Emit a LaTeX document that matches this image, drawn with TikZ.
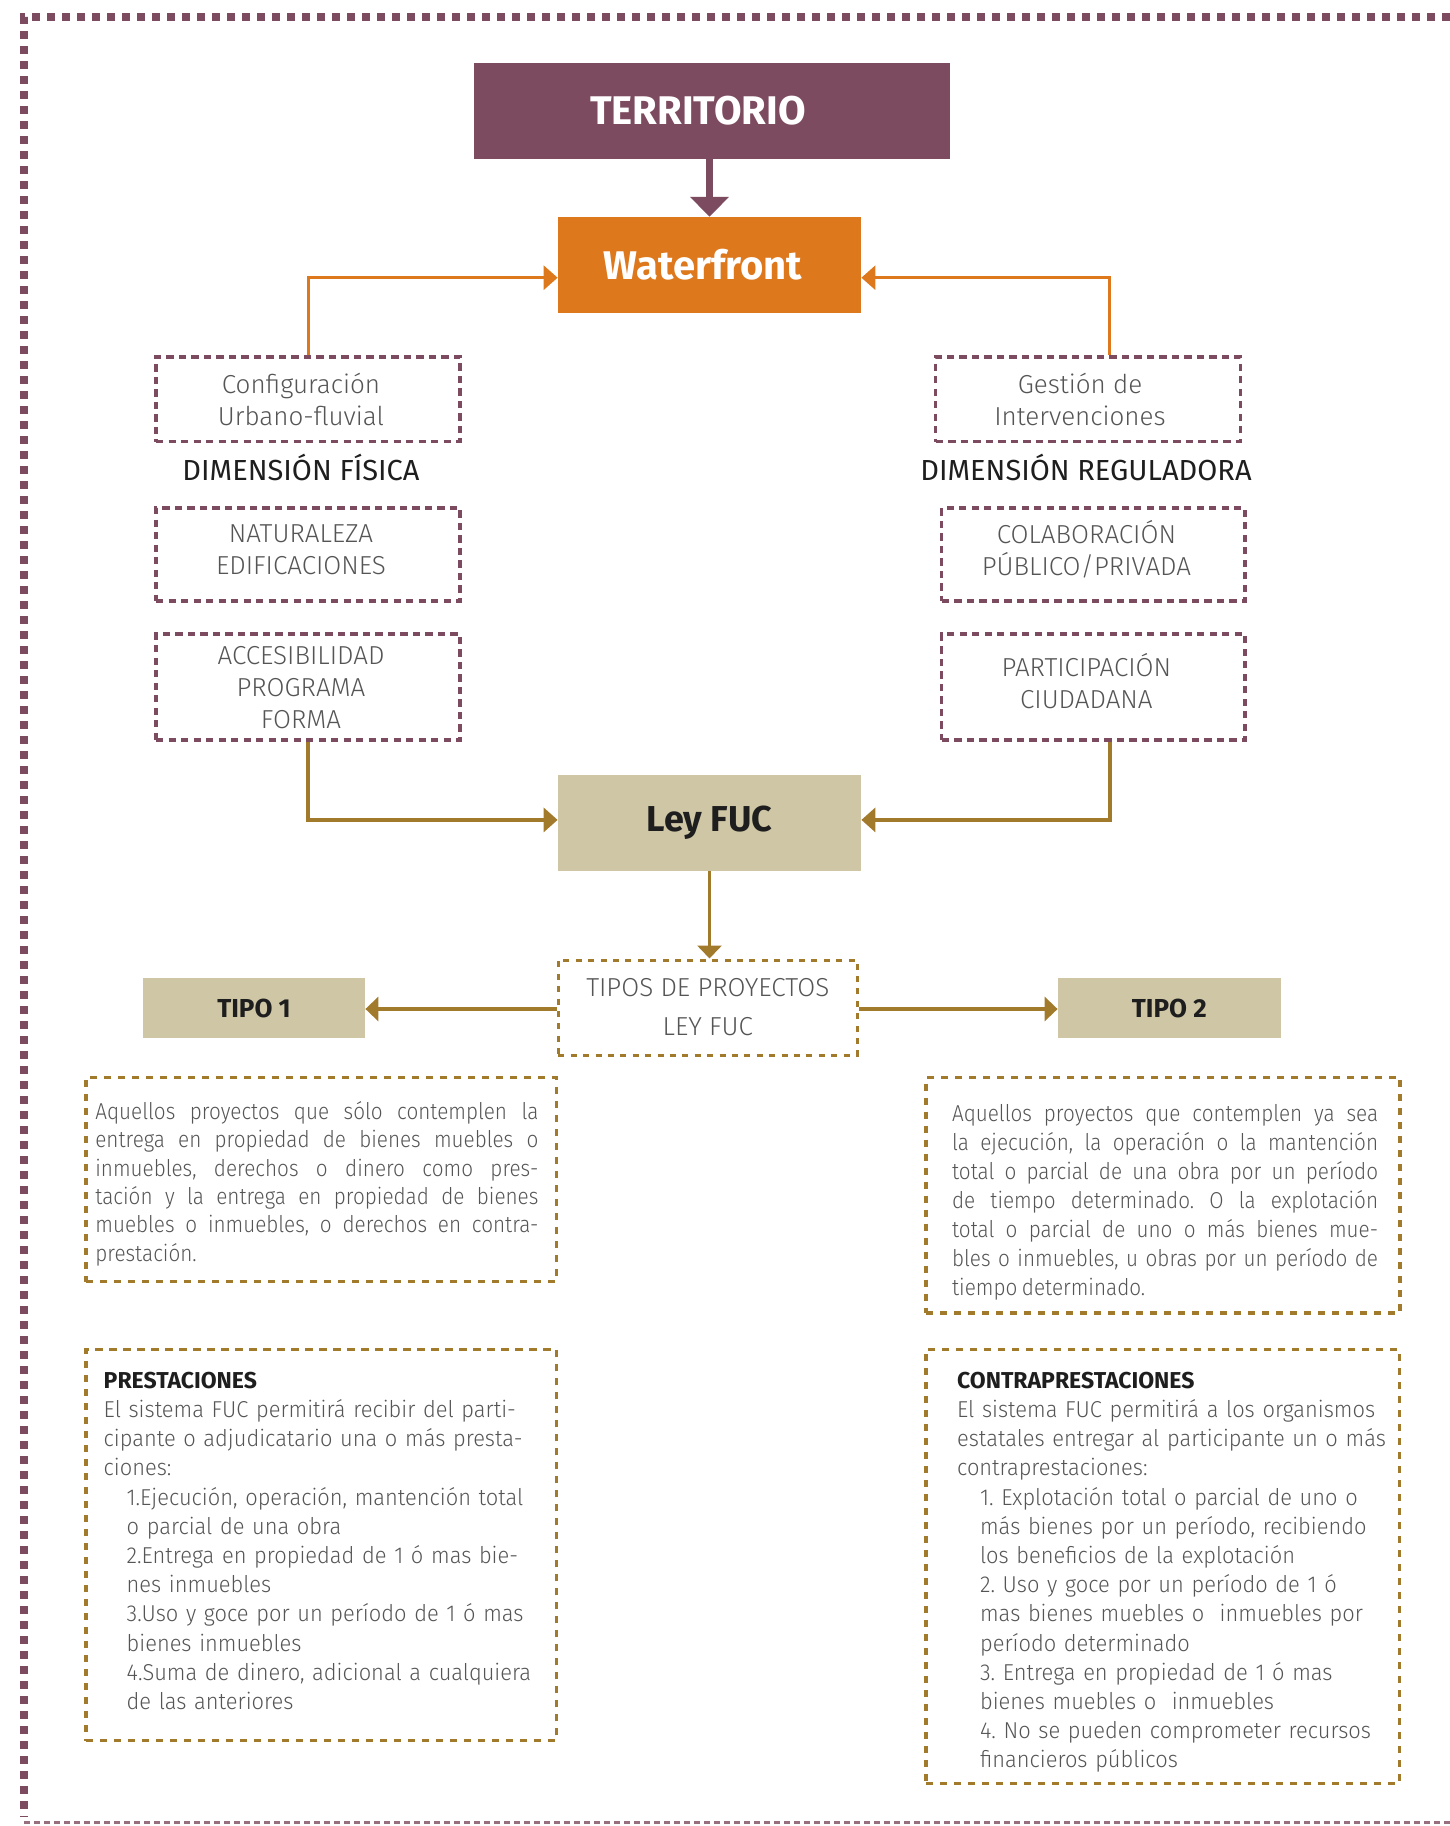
\documentclass[tikz,border=0pt]{standalone}
\usepackage{fontspec}
\usetikzlibrary{arrows.meta,calc}
\setmainfont{Fira Sans}
\newcommand\mylightname{Fira Sans}
\IfFontExistsTF{Fira Sans Light}{\renewcommand\mylightname{Fira Sans Light}}{%
  \IfFontExistsTF{FiraSans-Light}{\renewcommand\mylightname{FiraSans-Light}}{%
    \IfFontExistsTF{Fira Sans Book}{\renewcommand\mylightname{Fira Sans Book}}{%
      \IfFontExistsTF{FiraSans-Book}{\renewcommand\mylightname{FiraSans-Book}}{}}}}
\newfontfamily\lightf{\mylightname}
\newfontfamily\descf{\mylightname}[FakeStretch=0.95, WordSpace=0.8]
\newfontfamily\descnf{\mylightname}[FakeStretch=0.9, WordSpace=0.8]
\frenchspacing
\tolerance=9999
\hbadness=10000
\definecolor{plum}{HTML}{7D4B5F}
\definecolor{orng}{HTML}{DD781C}
\definecolor{gold}{HTML}{A27A2C}
\definecolor{beige}{HTML}{CFC6A6}
\definecolor{txtgray}{HTML}{555555}
\definecolor{txtdark}{HTML}{1E1E1E}
\tikzset{
  pbox/.style={draw=plum, line width=1.6pt, dash pattern=on 3.65pt off 2.6pt, inner sep=0pt},
  gbox/.style={draw=gold, line width=1.65pt, dash pattern=on 3.6pt off 3.4pt, inner sep=0pt},
  gdot/.style={draw=gold, line width=1.5pt, dash pattern=on 3pt off 3.2pt, inner sep=0pt},
  fillbox/.style={inner sep=0pt, draw=none},
  lbl/.style={font=\lightf\fontsize{13}{16}\selectfont, text=txtgray, align=center, inner sep=0pt},
  dimlbl/.style={font=\fontsize{14.5}{17}\selectfont, text=txtdark, inner sep=0pt},
  boldw/.style={font=\bfseries\fontsize{20}{24}\selectfont, text=white, inner sep=0pt},
  boldk/.style={font=\bfseries\fontsize{13}{16}\selectfont, text=txtdark},
  desc/.style={font=\descf\fontsize{11.5}{14.5}\selectfont, text=txtgray, align=left, inner sep=0pt},
  jdesc/.style={text=txtgray, align=justify, inner sep=0pt},
  parrow/.style={draw=plum, line width=3.5pt, -{Triangle[length=10pt,width=19pt]}},
  oarrow/.style={draw=orng, line width=1.5pt, -{Triangle[length=7pt,width=12pt]}},
  garrow/.style={draw=gold, line width=2pt, -{Triangle[length=7pt,width=12pt]}},
  garrowthin/.style={draw=gold, line width=1.7pt, -{Triangle[length=6.5pt,width=12pt]}},
}
\begin{document}
\begin{tikzpicture}[x=0.5pt,y=-0.5pt]
\useasboundingbox (0,0) rectangle (1450,1826);
% outer frame
\draw[plum, line width=4pt, dash pattern=on 4pt off 3.5pt] (1450,17) -- (24,17) -- (24,1817);
\draw[plum!80, line width=1.5pt, dash pattern=on 3pt off 2pt] (24,1822) -- (1450,1822);

% top boxes
\node[fillbox, fill=plum, minimum width=238pt, minimum height=47.75pt] (terr) at (712,110.8) {};
\node[boldw] (terrt) at (698,110.8) {TERRITORIO};
\node[fillbox, fill=orng, minimum width=151.5pt, minimum height=47.85pt] (wf) at (709.5,265) {};
\node[boldw] (wft) at (703,265) {Waterfront};

% left column
\node[pbox, minimum width=152pt, minimum height=42.35pt] (cfg) at (308,399.3) {};
\node[lbl] (cfgt) at ($(cfg)+(-7,0)$) {Configuración\\Urbano-fluvial};
\node[dimlbl] (dimf) at (301,467.5) {DIMENSIÓN FÍSICA};
\node[pbox, minimum width=152pt, minimum height=46.5pt] (nat) at (308,554.5) {};
\node[lbl] (natt) at ($(nat)+(-7,-5)$) {NATURALEZA\\EDIFICACIONES};
\node[pbox, minimum width=152pt, minimum height=53pt] (acc) at (308,687) {};
\node[lbl] (acct) at ($(acc)+(-7,1)$) {ACCESIBILIDAD\\PROGRAMA\\FORMA};

% right column
\node[pbox, minimum width=152.15pt, minimum height=42.35pt] (ges) at (1088,399.3) {};
\node[lbl] (gest) at ($(ges)+(-8,0)$) {Gestión de\\Intervenciones};
\node[dimlbl] (dimr) at (1086,467.5) {DIMENSIÓN REGULADORA};
\node[pbox, minimum width=151.65pt, minimum height=46.5pt] (col) at (1093.4,554.5) {};
\node[lbl] (colt) at ($(col)+(-7,-5)$) {COLABORACIÓN\\PÚBLICO/PRIVADA};
\node[pbox, minimum width=151.65pt, minimum height=53pt] (par) at (1093.4,687) {};
\node[lbl] (part) at ($(par)+(-7,-6)$) {PARTICIPACIÓN\\CIUDADANA};

% Ley FUC
\node[fillbox, fill=beige, minimum width=151.5pt, minimum height=47.85pt,
      font=\bfseries\fontsize{18}{22}\selectfont, text=txtdark] (ley) at (709.5,822.9) {Ley FUC};

% tipos
\node[gdot, minimum width=149.5pt, minimum height=47.5pt,
      font=\lightf\fontsize{13}{19.5}\selectfont, text=txtgray, align=center] (tip) at (707.8,1007.5) {TIPOS DE PROYECTOS\\LEY FUC};
\node[fillbox, fill=beige, minimum width=111pt, minimum height=30pt, boldk] (t1) at (254,1008.3) {TIPO 1};
\node[fillbox, fill=beige, minimum width=111.3pt, minimum height=30pt, boldk] (t2) at (1169.3,1008.3) {TIPO 2};

% description boxes
\node[gbox, minimum width=235.25pt, minimum height=102.2pt] (d1) at (321.3,1179.5) {};
\node[gbox, minimum width=237pt, minimum height=117.85pt] (d2) at (1163,1195.2) {};
\node[gbox, minimum width=235.35pt, minimum height=195.6pt] (pr) at (321.3,1545) {};
\node[gbox, minimum width=236.75pt, minimum height=217.1pt] (cp) at (1162.8,1566.4) {};

\node[jdesc, font=\descnf\fontsize{11.5}{14.2}\selectfont, text width=221.5pt, anchor=base west] (d1t) at (95,1119.3) {%
Aquellos proyectos que sólo contemplen la\linebreak
entrega en propiedad de bienes muebles o\linebreak
inmuebles, derechos o dinero como pres-\linebreak
tación y la entrega en propiedad de bienes\linebreak
muebles o inmuebles, o derechos en contra-\linebreak
prestación.};

\node[jdesc, font=\descnf\fontsize{11.5}{14.5}\selectfont, text width=213pt, anchor=base west] (d2t) at (951.7,1121) {%
Aquellos proyectos que contemplen ya sea\linebreak
la ejecución, la operación o la mantención\linebreak
total o parcial de una obra por un período\linebreak
de tiempo determinado. O la explotación\linebreak
total o parcial de uno o más bienes mue-\linebreak
bles o inmuebles, u obras por un período de\linebreak
tiempo determinado.};

\node[desc, font=\descf\fontsize{11.5}{14.6}\selectfont, text width=220pt, anchor=base west] (prt) at (103.3,1388.3) {%
{\rmfamily\bfseries\color{txtdark}PRESTACIONES}\\
El sistema FUC permitirá recibir del parti-\\
cipante o adjudicatario una o más presta-\\
ciones:\\
\hspace*{11.5pt}1.Ejecución, operación, mantención total\\
\hspace*{11.5pt}o parcial de una obra\\
\hspace*{11.5pt}2.Entrega en propiedad de 1 ó mas bie-\\
\hspace*{11.5pt}nes inmuebles\\
\hspace*{11.5pt}3.Uso y goce por un período de 1 ó mas\\
\hspace*{11.5pt}bienes inmuebles\\
\hspace*{11.5pt}4.Suma de dinero, adicional a cualquiera\\
\hspace*{11.5pt}de las anteriores};

\node[desc, font=\descf\fontsize{11.5}{14.6}\selectfont, text width=220pt, anchor=base west] (cpt) at (956.7,1388.3) {%
{\rmfamily\bfseries\color{txtdark}CONTRAPRESTACIONES}\\
El sistema FUC permitirá a los organismos\\
estatales entregar al participante un o más\\
contraprestaciones:\\
\hspace*{11.5pt}1. Explotación total o parcial de uno o\\
\hspace*{11.5pt}más bienes por un período, recibiendo\\
\hspace*{11.5pt}los beneficios de la explotación\\
\hspace*{11.5pt}2. Uso y goce por un período de 1 ó\\
\hspace*{11.5pt}mas bienes muebles o\ \ inmuebles por\\
\hspace*{11.5pt}período determinado\\
\hspace*{11.5pt}3. Entrega en propiedad de 1 ó mas\\
\hspace*{11.5pt}bienes muebles o\ \ inmuebles\\
\hspace*{11.5pt}4. No se pueden comprometer recursos\\
\hspace*{11.5pt}financieros públicos};

% connectors
\draw[parrow] (terr.south -| wf.north) -- (wf.north);
\draw[oarrow] (cfg.north) |- ($(wf.west)+(0,12.7)$);
\draw[oarrow] ($(ges.north)+(21,0)$) |- ($(wf.east)+(0,12.7)$);
\draw[garrow] (acc.south) |- ($(ley.west)+(0,-3)$);
\draw[garrow] ($(par.south)+(16.6,0)$) |- ($(ley.east)+(0,-3)$);
\draw[garrowthin] (ley.south) -- (ley.south |- tip.north);
\draw[garrowthin] ($(tip.west)+(0,1.5)$) -- ($(tip.west -| t1.east)+(0,1.5)$);
\draw[garrowthin] ($(tip.east)+(0,1.5)$) -- ($(tip.east -| t2.west)+(0,1.5)$);
\end{tikzpicture}
\end{document}
